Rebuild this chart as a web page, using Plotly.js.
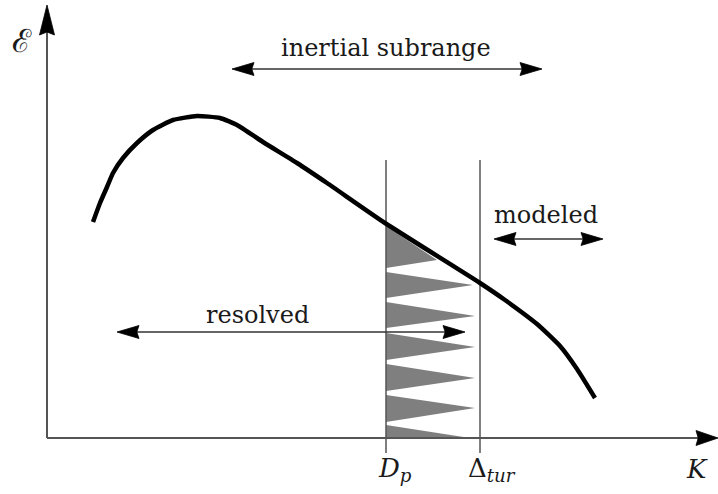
<!DOCTYPE html>
<html>
<head>
<meta charset="utf-8">
<script src="https://cdn.plot.ly/plotly-3.0.1.min.js"></script>
<style>html,body{margin:0;padding:0;background:#fff;}#chart{width:718px;height:494px;}</style>
</head>
<body>
<div id="chart"></div>
<script>
// Energy spectrum curve (wavenumber K, energy E) in schematic units
const curveK = [46, 53, 60, 66, 76, 90, 106, 126, 150, 173, 190, 216, 250, 280, 338, 433, 458, 490, 513, 530, 548];
const curveE = [216, 235, 251, 265, 280, 295, 308, 318, 322, 320, 313, 296, 275, 255, 215, 155, 138, 114, 92, 69, 40];

// Characteristic wavenumbers
const cutoffNames = ["D_p", "Δ_tur"];
const cutoffK = [339, 433];

// Filter "teeth" between D_p and Δ_tur (upper base, lower base, tip K, tip E)
const toothTop = [166, 136, 105, 74, 43, 13];
const toothBottom = [140, 110, 78, 47, 16, 0];
const toothTipK = [426, 428, 428, 428, 428, 423];
const toothTipE = [153, 122, 91, 60, 30, 0];
// top piece under the curve
const topPieceK = [339, 390, 339];
const topPieceE = [212, 178, 170];

// Range arrows
const rangeLabels = ["inertial subrange", "modeled", "resolved"];
const rangeStart = [185, 447, 70];
const rangeEnd = [495, 556, 418];
const rangeLevel = [369, 199, 106];
const labelK = [339, 499, 210];
const labelE = [390, 223, 123];

const traces = [];
const base = {type: 'scatter', mode: 'lines', hoverinfo: 'skip', showlegend: false};

function head(tx, ty, dx, dy, len, hw) {
  const bx = tx - dx * len, by = ty - dy * len;
  const nx = -dy, ny = dx;
  const mx = tx - dx * len * 0.9, my = ty - dy * len * 0.9;
  return {
    x: [tx, bx + nx * hw, mx, bx - nx * hw, tx],
    y: [ty, by + ny * hw, my, by - ny * hw, ty]
  };
}
function addHead(tx, ty, dx, dy, len, hw) {
  const h = head(tx, ty, dx, dy, len, hw);
  traces.push(Object.assign({}, base, {x: h.x, y: h.y, fill: 'toself', fillcolor: '#000', line: {color: '#000', width: 0.8}}));
}

// teeth
traces.push(Object.assign({}, base, {x: topPieceK, y: topPieceE, fill: 'toself', fillcolor: '#7f7f7f', line: {width: 0, color: '#7f7f7f'}}));
for (let i = 0; i < toothTop.length; i++) {
  traces.push(Object.assign({}, base, {
    x: [cutoffK[0], toothTipK[i], cutoffK[0], cutoffK[0]],
    y: [toothTop[i], toothTipE[i], toothBottom[i], toothTop[i]],
    fill: 'toself', fillcolor: '#7f7f7f', line: {width: 0, color: '#7f7f7f'}
  }));
}

// vertical cutoff lines
for (let i = 0; i < cutoffK.length; i++) {
  traces.push(Object.assign({}, base, {x: [cutoffK[i], cutoffK[i]], y: [-15, 278], line: {color: '#555', width: 1.5}}));
}

// axes
traces.push(Object.assign({}, base, {x: [0, 0], y: [0, 410], line: {color: '#555', width: 2}}));
traces.push(Object.assign({}, base, {x: [0, 655], y: [0, 0], line: {color: '#555', width: 2}}));
addHead(0, 433, 0, 1, 30, 7.5);
addHead(671, 0, 1, 0, 22, 7.5);

// range arrows
for (let i = 0; i < rangeLabels.length; i++) {
  traces.push(Object.assign({}, base, {x: [rangeStart[i] + 10, rangeEnd[i] - 10], y: [rangeLevel[i], rangeLevel[i]], line: {color: '#333', width: 1.6}}));
  addHead(rangeStart[i], rangeLevel[i], -1, 0, 22, 6.5);
  addHead(rangeEnd[i], rangeLevel[i], 1, 0, 22, 6.5);
}

// spectrum curve
traces.push(Object.assign({}, base, {x: curveK, y: curveE, line: {color: '#000', width: 4.5, shape: 'spline', smoothing: 0.5}}));

const serif = 'DejaVu Serif, serif';
const annotations = [];
for (let i = 0; i < rangeLabels.length; i++) {
  annotations.push({x: labelK[i], y: labelE[i], xref: 'x', yref: 'y', text: rangeLabels[i], showarrow: false, font: {family: serif, size: 24, color: '#1a1a1a'}});
}
annotations.push({x: 348, y: -31, xref: 'x', yref: 'y', text: '<i>D</i><sub><i>p</i></sub>', showarrow: false, font: {family: serif, size: 26, color: '#1a1a1a'}});
annotations.push({x: 445, y: -31, xref: 'x', yref: 'y', text: 'Δ<sub><i>tur</i></sub>', showarrow: false, font: {family: serif, size: 26, color: '#1a1a1a'}});
annotations.push({x: 650, y: -31, xref: 'x', yref: 'y', text: '<i>K</i>', showarrow: false, font: {family: serif, size: 26, color: '#1a1a1a'}});
annotations.push({x: -25, y: 397, xref: 'x', yref: 'y', text: 'ℰ', showarrow: false, font: {family: serif, size: 32, color: '#1a1a1a'}});

const layout = {
  width: 718, height: 494,
  margin: {l: 0, r: 0, t: 0, b: 0},
  paper_bgcolor: '#fff', plot_bgcolor: '#fff',
  xaxis: {range: [-47, 671], visible: false, fixedrange: true},
  yaxis: {range: [-56, 438], visible: false, fixedrange: true},
  annotations: annotations,
  showlegend: false
};
Plotly.newPlot('chart', traces, layout, {staticPlot: true, displayModeBar: false});
</script>
</body>
</html>
